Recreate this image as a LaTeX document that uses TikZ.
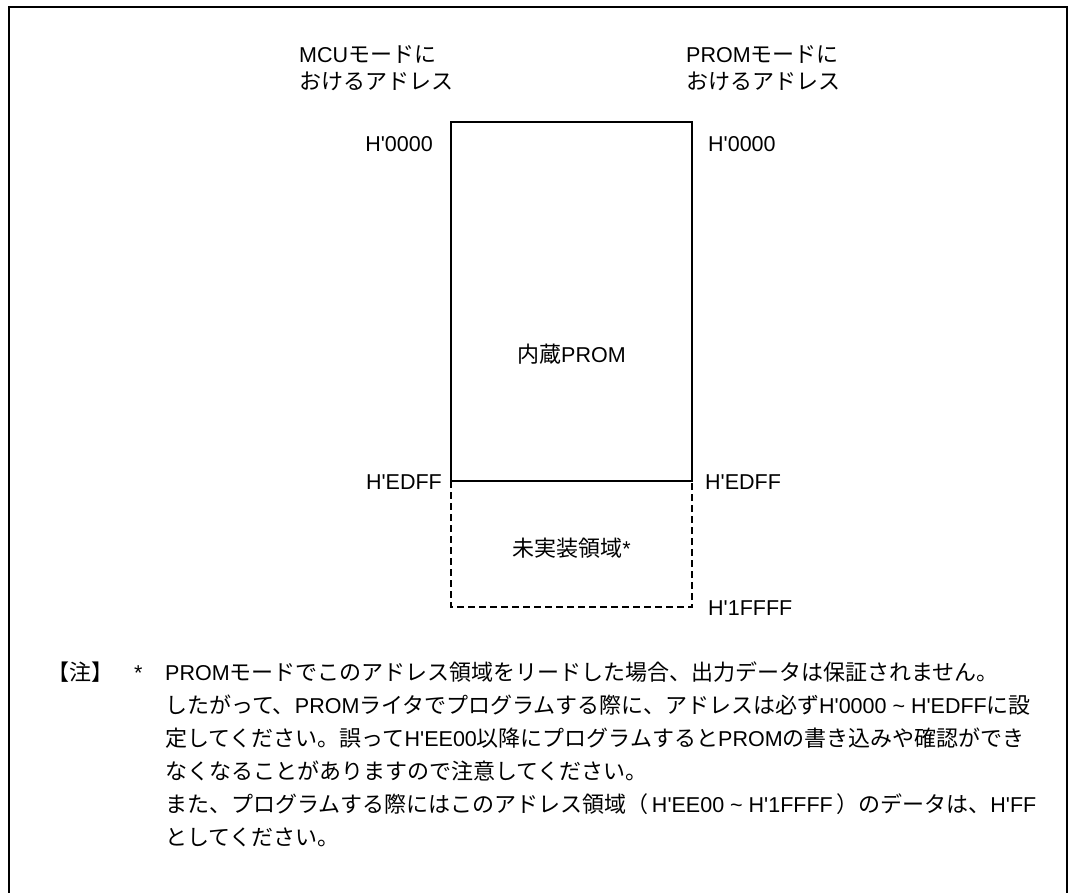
\documentclass[tikz,border=0pt]{standalone}
\usepackage{fontspec}
\setmainfont{Liberation Sans}[Ligatures=TeXOff]
\newfontfamily\jp{Noto Sans CJK JP}[Scale=1.023]
\newcommand\J[1]{{\jp #1}}
\newcommand\myTilde{\textasciitilde}
\begin{document}
\begin{tikzpicture}[x=1pt,y=-1pt,
  txt/.style={inner sep=0pt, font=\fontsize{21.5}{26}\selectfont},
  lw/.style={txt, anchor=base west},
  le/.style={txt, anchor=base east},
  lc/.style={txt, anchor=base},
  frameline/.style={line width=1.2pt, black},
  boxline/.style={line width=2pt, black, line join=miter},
  unimpl/.style={line width=2pt, dash pattern=on 7pt off 4pt, black}]
\useasboundingbox (0,0) rectangle (1077,893);
\fill[white] (0,0) rectangle (1077,893);
% outer frame
\coordinate (fbl) at (9,893);
\coordinate (ftl) at (9,7);
\coordinate (ftr) at (1067,7);
\coordinate (fbr) at (1067,893);
\draw[frameline] (fbl) -- (ftl) -- (ftr) -- (fbr);
% memory map
\coordinate (tl) at (451,122);
\coordinate (tr) at (692,122);
\coordinate (ml) at (451,481);
\coordinate (mr) at (692,481);
\coordinate (bl) at (451,607);
\coordinate (br) at (692,607);
\draw[unimpl] (ml) -- (bl) -- (br) -- (mr);
\draw[boxline] (ml) -- (tl) -- (tr) -- (mr) -- cycle;
% headers
\node[lw] (mcu1) at (299,63) {MCU\J{モードに}};
\node[lw] (mcu2) at (299,90) {\J{おけるアドレス}};
\node[lw] (prom1) at (686,63) {PROM\J{モードに}};
\node[lw] (prom2) at (686,90) {\J{おけるアドレス}};
% addresses
\node[le] (a0l) at (433,152) {H'0000};
\node[lw] (a0r) at (708,152) {H'0000};
\node[le] (a1l) at (442,489) {H'EDFF};
\node[lw] (a1r) at (705,489) {H'EDFF};
\node[lw] (a2r) at (708,615) {H'1FFFF};
% region labels
\node[lc] (prom) at (571.5,363) {\J{内蔵}PROM};
\node[lc] (none) at (571.5,556) {\J{未実装領域}*};
% notes
\node[lw] (nt) at (47,680) {\J{【注】}};
\node[lw] (ast) at (134,680) {*};
\node[lw] (n1) at (165,680) {PROM\J{モードでこのアドレス領域をリードした場合、出力データは保証されません。}};
\node[lw] (n2) at (165,713) {\J{したがって、}PROM\J{ライタでプログラムする際に、アドレスは必ず}H'0000 \myTilde{} H'EDFF\J{に設}};
\node[lw] (n3) at (165,746) {\J{定してください。誤って}H'EE00\J{以降にプログラムすると}PROM\J{の書き込みや確認ができ}};
\node[lw] (n4) at (165,779) {\J{なくなることがありますので注意してください。}};
\node[lw] (n5) at (165,812) {\J{また、プログラムする際にはこのアドレス領域（}\,H'EE00 \myTilde{} H'1FFFF\,\J{）のデータは、}H'FF};
\node[lw] (n6) at (165,845) {\J{としてください。}};
\end{tikzpicture}
\end{document}
